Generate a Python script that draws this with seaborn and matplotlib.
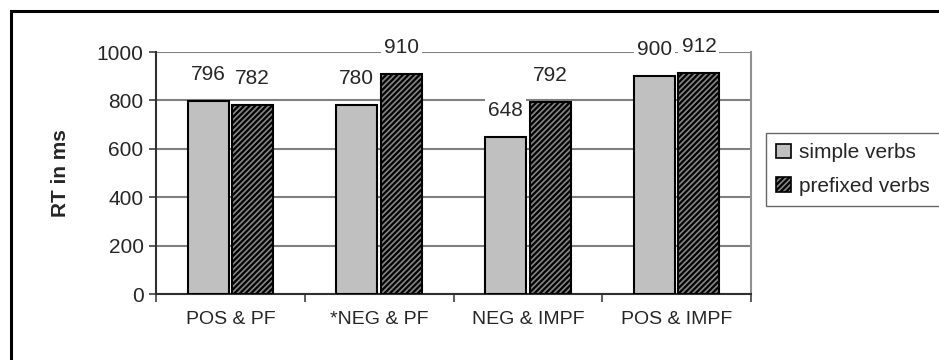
import matplotlib
matplotlib.use("Agg")
import matplotlib.pyplot as plt
import seaborn as sns
import pandas as pd
from matplotlib.patches import Rectangle, Patch

# Reaction times per condition
conditions = ["POS & PF", "*NEG & PF", "NEG & IMPF", "POS & IMPF"]
simple_verbs = [796, 780, 648, 900]
prefixed_verbs = [782, 910, 792, 912]
series_names = ["simple verbs", "prefixed verbs"]
y_ticks = [0, 200, 400, 600, 800, 1000]

df = pd.DataFrame({
    "condition": conditions * 2,
    "rt": simple_verbs + prefixed_verbs,
    "verbs": [series_names[0]] * 4 + [series_names[1]] * 4,
})

sns.set_style("white")
plt.rcParams["font.family"] = ["Liberation Sans", "DejaVu Sans"]
plt.rcParams["hatch.linewidth"] = 1.6
plt.rcParams["hatch.color"] = "black"

fig = plt.figure(figsize=(9.39, 3.6), dpi=100)
ax = fig.add_axes([156 / 939, 1 - 294 / 360, (751 - 156) / 939, (294 - 52) / 360])

sns.barplot(data=df, x="condition", y="rt", hue="verbs", order=conditions,
            hue_order=series_names, palette=["#c0c0c0", "#858585"],
            width=0.6, gap=0.08, edgecolor="black", linewidth=1.5,
            legend=False, ax=ax, zorder=3)

# Hatch the prefixed-verb bars
n = len(conditions)
for i, p in enumerate(ax.patches):
    if i >= n:
        p.set_hatch("//////")

# Value labels above each bar
for p, v in zip(ax.patches, simple_verbs + prefixed_verbs):
    ax.annotate(f"{v}", (p.get_x() + p.get_width() / 2, v), xytext=(0, 19),
                textcoords="offset points", ha="center", va="center",
                fontsize=15, zorder=5,
                bbox=dict(boxstyle="square,pad=0.15", fc="white", ec="none"))

ax.set_ylim(0, 1000)
ax.set_yticks(y_ticks)
ax.yaxis.grid(True, color="#808080", linewidth=1.5, zorder=0)
ax.set_axisbelow(True)
ax.set_xlim(-0.5, n - 0.5)
ax.set_xticks([i - 0.5 for i in range(n + 1)])
ax.set_xticklabels([])
ax.set_xticks(range(n), minor=True)
ax.set_xticklabels(conditions, minor=True, fontsize=14)
ax.tick_params(axis="x", which="major", length=6, width=1.2, color="#404040",
               direction="out", bottom=True)
ax.tick_params(axis="x", which="minor", length=0, pad=12)
ax.tick_params(axis="y", length=5, width=1.2, color="#404040", direction="out",
               left=True, labelsize=15, pad=4)
ax.set_xlabel("")
ax.set_ylabel("RT in ms", fontsize=15, fontweight="bold", labelpad=19)

ax.spines["top"].set_visible(False)
ax.spines["right"].set_color("#909090")
ax.spines["right"].set_linewidth(1.5)
ax.spines["left"].set_color("#303030")
ax.spines["left"].set_linewidth(1.5)
ax.spines["bottom"].set_color("#303030")
ax.spines["bottom"].set_linewidth(1.5)

handles = [Patch(facecolor="#c0c0c0", edgecolor="black", linewidth=1.2),
           Patch(facecolor="#858585", edgecolor="black", linewidth=1.2, hatch="//////")]
leg = fig.legend(handles, series_names, loc="upper left",
                 bbox_to_anchor=(766 / 939, 1 - 133 / 360), fontsize=15,
                 frameon=True, fancybox=False, edgecolor="#404040",
                 handlelength=0.7, handleheight=0.7, handletextpad=0.4,
                 labelspacing=0.7, borderpad=0.5, borderaxespad=0)
leg.get_frame().set_linewidth(1.0)

# Chart-area border
fig.patches.append(Rectangle((11 / 939, -0.2), 1.2, 1.2 - 11 / 360,
                             transform=fig.transFigure, fill=False,
                             edgecolor="black", linewidth=2.2, zorder=10))

fig.savefig("out.png", dpi=100)
